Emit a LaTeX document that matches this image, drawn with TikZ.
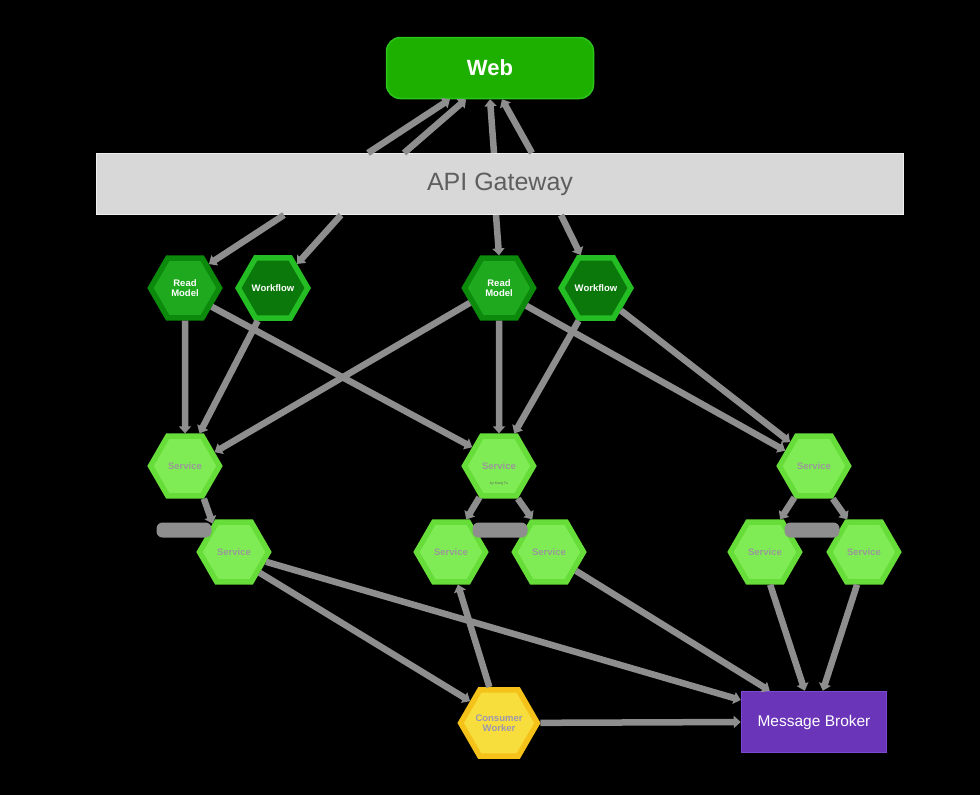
\documentclass[tikz,border=0pt]{standalone}
\usepackage{fontspec}
\setmainfont{Liberation Sans}
\usetikzlibrary{arrows.meta,shapes.geometric}
\definecolor{WebGreen}{HTML}{1DB000}
\definecolor{WebEdge}{HTML}{2BC41A}
\definecolor{GateFill}{HTML}{D8D8D8}
\definecolor{GateEdge}{HTML}{EFEFEF}
\definecolor{GateText}{HTML}{5E5E5E}
\definecolor{RmRing}{HTML}{0C8A0C}
\definecolor{RmFill}{HTML}{1FA91F}
\definecolor{WfRing}{HTML}{24BE24}
\definecolor{WfFill}{HTML}{0A780A}
\definecolor{SvRing}{HTML}{66DD38}
\definecolor{SvFill}{HTML}{80EC55}
\definecolor{SvText}{HTML}{999999}
\definecolor{CwRing}{HTML}{F5C21A}
\definecolor{CwFill}{HTML}{F7DE3C}
\definecolor{CwText}{HTML}{9C98B0}
\definecolor{Broker}{HTML}{6A35B8}
\definecolor{BrokerEdge}{HTML}{7D48D0}
\definecolor{Wire}{HTML}{8E8E8E}

\begin{document}
\begin{tikzpicture}[x=1pt,y=-1pt,
  hexa/.style={regular polygon,regular polygon sides=6,minimum size=69pt,
    inner sep=0pt,line width=5.5pt,align=center,
    font=\bfseries\fontsize{9.5}{10.5}\selectfont},
  readm/.style={hexa,draw=RmRing,fill=RmFill,text=white},
  workf/.style={hexa,draw=WfRing,fill=WfFill,text=white},
  svc/.style={hexa,draw=SvRing,fill=SvFill,text=SvText},
  cons/.style={hexa,draw=CwRing,fill=CwFill,text=CwText},
  tag/.style={fill=Wire,rounded corners=6pt,minimum width=55pt,
    minimum height=15pt,inner sep=0pt},
  arrow/.style={draw=Wire,line width=6.5pt,-{Triangle[length=7pt,width=12pt]}}]
\fill[black](0,0)rectangle(980,795);
\useasboundingbox(0,0)rectangle(980,795);
% top
\node[draw=WebEdge,line width=1.5pt,fill=WebGreen,rounded corners=14pt,
  minimum width=207pt,minimum height=61pt,text=white,
  font=\bfseries\fontsize{22}{24}\selectfont](web)at(490,68){Web};
\node[draw=GateEdge,line width=1pt,fill=GateFill,minimum width=807pt,
  minimum height=61pt,text=GateText,font=\fontsize{25}{28}\selectfont](gw)
  at(500,184){API Gateway};
% entry points
\node[readm](rmA)at(185,288){Read\\Model};
\node[workf](wfA)at(273,288){Workflow};
\node[readm](rmB)at(499,288){Read\\Model};
\node[workf](wfB)at(596,288){Workflow};
% services
\node[svc](svA)at(185,466){Service};
\node[svc](svB)at(234,552){Service};
\node[svc](svC)at(499,466){Service};
\node[font=\fontsize{3.5}{4}\selectfont,text=GateText](credit)at(499,484){by Kong Tu};
\node[svc](svD)at(451,552){Service};
\node[svc](svE)at(549,552){Service};
\node[svc](svF)at(814,466){Service};
\node[svc](svG)at(765,552){Service};
\node[svc](svH)at(864,552){Service};
\node[tag](tagA)at(184,530){};
\node[tag](tagB)at(500,530){};
\node[tag](tagC)at(812,530){};
% messaging
\node[cons](worker)at(499,723){Consumer\\Worker};
\node[draw=BrokerEdge,line width=1.5pt,fill=Broker,minimum width=145pt,
  minimum height=61pt,text=white,font=\fontsize{15.5}{17}\selectfont](broker)
  at(814,722){Message Broker};
% web <-> gateway
\draw[arrow]([xshift=-132pt]gw.north)--([xshift=-40pt]web.south);
\draw[arrow]([xshift=-96pt]gw.north)--([xshift=-24pt]web.south);
\draw[arrow]([xshift=-6pt]gw.north)--(web.south);
\draw[arrow]([xshift=32pt]gw.north)--([xshift=12pt]web.south);
% gateway -> read models / workflows
\draw[arrow]([xshift=-216pt]gw.south)--(rmA.45);
\draw[arrow]([xshift=-159pt]gw.south)--(wfA.45);
\draw[arrow]([xshift=-4pt]gw.south)--(rmB.north);
\draw[arrow]([xshift=61pt]gw.south)--(wfB.115);
% to services
\draw[arrow](rmA.south)--(svA.north);
\draw[arrow](rmA.-35)--(svC.145);
\draw[arrow](wfA.245)--(svA.66);
\draw[arrow](rmB.207)--(svA.25);
\draw[arrow](rmB.south)--(svC.north);
\draw[arrow](rmB.-33)--(svF.152);
\draw[arrow](wfB.242)--(svC.65);
\draw[arrow](wfB.-42)--(svF.135);
\draw[arrow](svA.-60)--(svB.127);
\draw[arrow](svC.238)--(svD.65);
\draw[arrow](svC.-60)--(svE.117);
\draw[arrow](svF.238)--(svG.65);
\draw[arrow](svF.-60)--(svH.117);
% to the broker
\draw[arrow](svB.-17)--([yshift=22pt]broker.west);
\draw[arrow](svB.-39)--(worker.143);
\draw[arrow](svE.-35)--([xshift=29pt]broker.north west);
\draw[arrow](worker.105)--(svD.-78);
\draw[arrow](svG.-81)--([xshift=64pt]broker.north west);
\draw[arrow](svH.258)--([xshift=82pt]broker.north west);
\draw[arrow](worker)--(broker.west);
\end{tikzpicture}
\end{document}
